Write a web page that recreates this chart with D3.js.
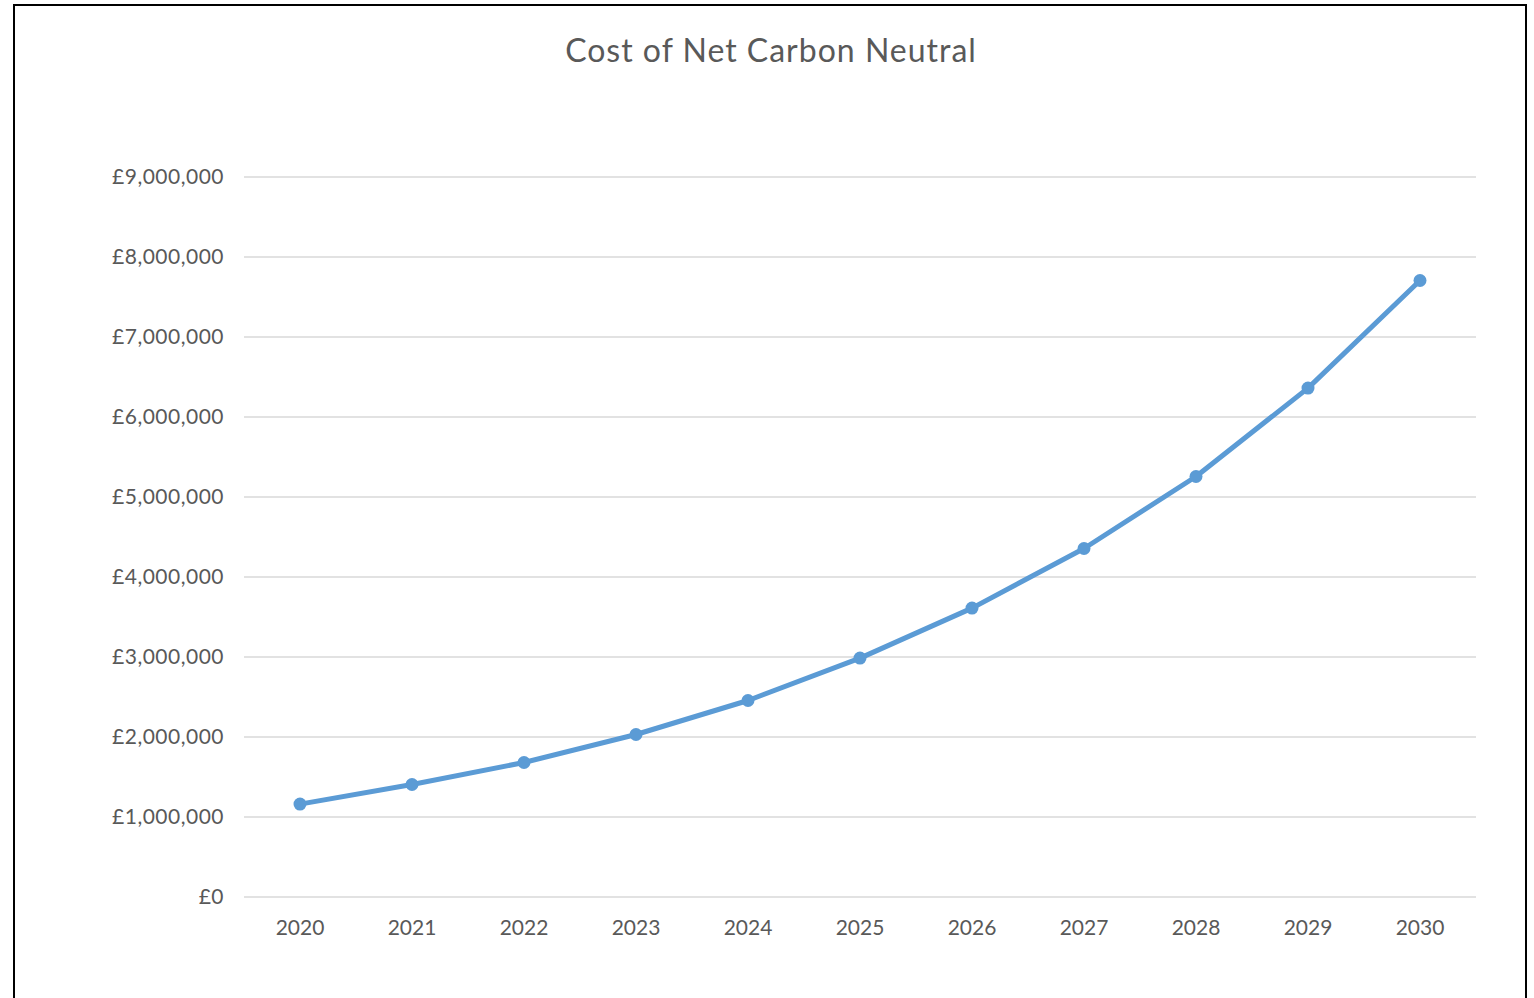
<!DOCTYPE html>
<html>
<head>
<meta charset="utf-8">
<script src="https://cdn.jsdelivr.net/npm/d3@7"></script>
<style>
  html, body { margin: 0; padding: 0; background: #ffffff; }
  svg { display: block; }
  text { font-family: Lato, "Open Sans", sans-serif; fill: #595959; }
</style>
</head>
<body>
<svg id="chart" width="1534" height="998"></svg>
<script>
// Yearly cost of reaching net carbon neutrality
const years = ["2020", "2021", "2022", "2023", "2024", "2025", "2026", "2027", "2028", "2029", "2030"];
const costs = [1155000, 1400000, 1675000, 2025000, 2450000, 2980000, 3605000, 4350000, 5250000, 6355000, 7700000];
const yTicks = [0, 1000000, 2000000, 3000000, 4000000, 5000000, 6000000, 7000000, 8000000, 9000000];
const chartTitle = "Cost of Net Carbon Neutral";

const svg = d3.select("#chart");

// chart frame
svg.append("rect")
  .attr("x", 14).attr("y", 5)
  .attr("width", 1512).attr("height", 1010)
  .attr("fill", "#ffffff")
  .attr("stroke", "#000000")
  .attr("stroke-width", 2);

const plot = { left: 244, right: 1476, top: 176.5, bottom: 896.5 };

const x = d3.scaleBand().domain(years).range([plot.left, plot.right]);
const y = d3.scaleLinear().domain([0, 9000000]).range([plot.bottom, plot.top]);

const fmt = v => "£" + d3.format(",")(v);

// gridlines and y labels
const yAxis = d3.axisLeft(y)
  .tickValues(yTicks)
  .tickSize(-(plot.right - plot.left))
  .tickPadding(20)
  .tickFormat(fmt);

const gy = svg.append("g")
  .attr("transform", `translate(${plot.left},0)`)
  .call(yAxis);
gy.select(".domain").remove();
gy.selectAll(".tick line").attr("stroke", "#d9d9d9").attr("stroke-width", 1.5);
gy.selectAll(".tick text")
  .attr("font-size", 21)
  .attr("letter-spacing", 0.5)
  .attr("font-family", "Lato, sans-serif")
  .attr("fill", "#595959");

// x labels
const xAxis = d3.axisBottom(x).tickSize(0).tickPadding(24);
const gx = svg.append("g")
  .attr("transform", `translate(0,${plot.bottom})`)
  .call(xAxis);
gx.select(".domain").remove();
gx.selectAll(".tick text")
  .attr("font-size", 21)
  .attr("font-family", "Lato, sans-serif")
  .attr("fill", "#595959");

// series line
const data = years.map((yr, i) => ({ year: yr, value: costs[i] }));
const line = d3.line()
  .x(d => x(d.year) + x.bandwidth() / 2)
  .y(d => y(d.value));

svg.append("path")
  .datum(data)
  .attr("d", line)
  .attr("fill", "none")
  .attr("stroke", "#5b9bd5")
  .attr("stroke-width", 5)
  .attr("stroke-linejoin", "round");

svg.selectAll("circle.pt")
  .data(data)
  .join("circle")
  .attr("class", "pt")
  .attr("cx", d => x(d.year) + x.bandwidth() / 2)
  .attr("cy", d => y(d.value))
  .attr("r", 6.5)
  .attr("fill", "#5b9bd5");

// title
svg.append("text")
  .attr("x", 771)
  .attr("y", 62)
  .attr("text-anchor", "middle")
  .attr("font-size", 32)
  .attr("letter-spacing", 1)
  .attr("fill", "#595959")
  .text(chartTitle);
</script>
</body>
</html>
